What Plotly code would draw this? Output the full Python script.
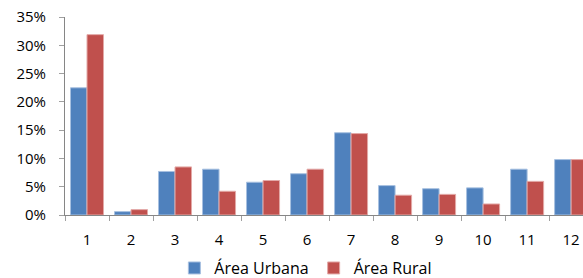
import plotly.graph_objects as go

categories = ["1", "2", "3", "4", "5", "6", "7", "8", "9", "10", "11", "12"]
urbana = [22.5, 0.6, 7.7, 8.1, 5.8, 7.3, 14.55, 5.2, 4.65, 4.8, 8.1, 9.8]
rural = [31.9, 0.95, 8.5, 4.2, 6.1, 8.1, 14.4, 3.5, 3.65, 1.95, 5.95, 9.8]
y_ticks = [0, 5, 10, 15, 20, 25, 30, 35]
y_labels = [f"{v}%" for v in y_ticks]

fig = go.Figure()
fig.add_trace(go.Bar(name="Área Urbana", x=categories, y=urbana,
                     marker=dict(color="#4F81BD", line=dict(color="#A7C0E0", width=1))))
fig.add_trace(go.Bar(name="Área Rural", x=categories, y=rural,
                     marker=dict(color="#C0504D", line=dict(color="#E3A9A7", width=1))))

fig.update_layout(
    width=583, height=278,
    margin=dict(l=65, r=0, t=17, b=63, autoexpand=False),
    paper_bgcolor="white", plot_bgcolor="white",
    barmode="group", bargap=0.25, bargroupgap=0,
    font=dict(family="Open Sans", size=15, color="#000000"),
    showlegend=True,
    legend=dict(orientation="h", x=0.465, xanchor="center", y=-0.268, yanchor="middle",
                font=dict(size=16), traceorder="normal", itemwidth=30),
)
fig.update_xaxes(type="category", range=[-0.5, 11.27], showline=True, linecolor="#868686",
                 linewidth=1, ticks="outside", tickson="boundaries", ticklen=5,
                 tickcolor="#A0A0A0", showgrid=False, automargin=False,
                 ticklabelstandoff=11, ticklabeloverflow="allow")
fig.update_yaxes(range=[0, 35.02], tickvals=y_ticks, ticktext=y_labels, showline=True,
                 linecolor="#868686", linewidth=1, ticks="outside", ticklen=5,
                 tickcolor="#A0A0A0", showgrid=False, zeroline=False, automargin=False,
                 ticklabelstandoff=10, ticklabeloverflow="allow")

fig.write_html(
    "out.html",
    config={"displayModeBar": False},
    post_script="document.body.style.margin='0';document.body.style.overflow='hidden';",
)
